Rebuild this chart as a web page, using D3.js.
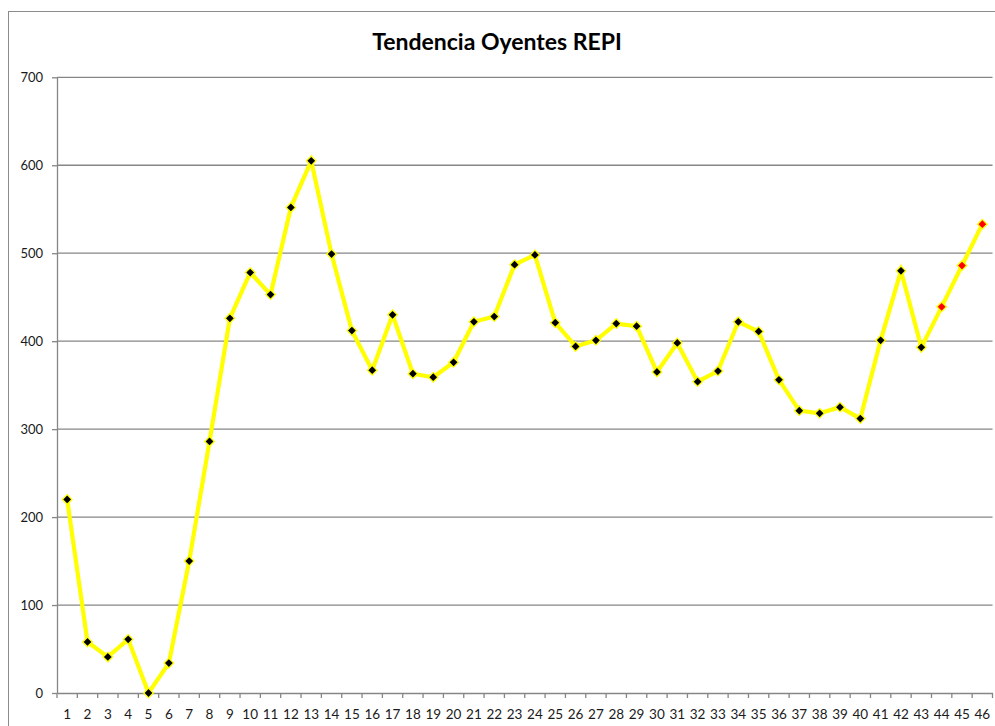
<!DOCTYPE html>
<html>
<head>
<meta charset="utf-8">
<script src="https://cdn.jsdelivr.net/npm/d3@7"></script>
<style>
  html, body { margin: 0; padding: 0; background: #fff; }
  svg { display: block; }
</style>
</head>
<body>
<svg id="chart" width="995" height="726"></svg>
<script>
const title = "Tendencia Oyentes REPI";
const categories = d3.range(1, 47).map(String);
const values = [220, 58, 41, 61, 0, 34, 150, 286, 426, 478, 453, 552, 605, 499, 412, 367,
  430, 363, 359, 376, 422, 428, 487, 498, 421, 394, 401, 420, 417, 365, 398, 354, 366,
  422, 411, 356, 321, 318, 325, 312, 401, 480, 393, 439, 486, 533];
const highlighted = ["44", "45", "46"];
const yTicks = [0, 100, 200, 300, 400, 500, 600, 700];

const svg = d3.select("#chart");
const margin = { left: 57, right: 992.5, top: 77.3, bottom: 693 };

// outer frame
svg.append("rect")
  .attr("x", 8.5).attr("y", 11.5)
  .attr("width", 1000).attr("height", 800)
  .attr("fill", "none").attr("stroke", "#8c8c8c").attr("stroke-width", 1);

const x = d3.scaleBand().domain(categories).range([margin.left, margin.right]).padding(0);
const y = d3.scaleLinear().domain([0, 700]).range([margin.bottom, margin.top]);

const data = categories.map((c, i) => ({ c, v: values[i] }));

// gridlines
svg.append("g").selectAll("line").data(yTicks.filter(t => t > 0)).join("line")
  .attr("x1", margin.left).attr("x2", margin.right)
  .attr("y1", d => y(d)).attr("y2", d => y(d))
  .attr("stroke", "#868686").attr("stroke-width", 1.3);

// y axis
const yAxis = svg.append("g")
  .attr("transform", `translate(${margin.left},0)`)
  .call(d3.axisLeft(y).tickValues(yTicks).tickSize(5).tickPadding(9).tickSizeOuter(0));
yAxis.select(".domain").attr("stroke", "#868686").attr("stroke-width", 1.3);
yAxis.selectAll(".tick line").attr("stroke", "#868686").attr("stroke-width", 1.3);
yAxis.selectAll("text").attr("font-family", "Lato, sans-serif").attr("font-size", 13).attr("fill", "#1a1a1a");

// x axis
const xAxis = svg.append("g")
  .attr("transform", `translate(0,${margin.bottom})`)
  .call(d3.axisBottom(x).tickSize(0).tickPadding(16).tickSizeOuter(0));
xAxis.select(".domain").attr("stroke", "#868686").attr("stroke-width", 1.3);
xAxis.selectAll("text").attr("font-family", "Lato, sans-serif").attr("font-size", 13.5).attr("fill", "#1a1a1a");
// tick marks between categories
const boundaries = categories.map(c => x(c)).concat([x(categories[categories.length - 1]) + x.bandwidth()]);
xAxis.append("g").selectAll("line").data(boundaries).join("line")
  .attr("x1", d => d).attr("x2", d => d)
  .attr("y1", 0).attr("y2", 5)
  .attr("stroke", "#868686").attr("stroke-width", 1.3);

// line
const line = d3.line().x(d => x(d.c) + x.bandwidth() / 2).y(d => y(d.v));
svg.append("path").datum(data)
  .attr("d", line)
  .attr("fill", "none").attr("stroke", "#ffff00").attr("stroke-width", 4.2)
  .attr("stroke-linejoin", "miter");

// markers
const sym = d3.symbol().type(d3.symbolSquare).size(46);
svg.append("g").selectAll("path").data(data).join("path")
  .attr("d", sym)
  .attr("transform", d => `translate(${x(d.c) + x.bandwidth() / 2},${y(d.v)}) rotate(45)`)
  .attr("fill", d => highlighted.includes(d.c) ? "#ff0000" : "#000000")
  .attr("stroke", "#ffff00").attr("stroke-width", 1.3);

// title
svg.append("text")
  .attr("x", 497).attr("y", 50)
  .attr("text-anchor", "middle")
  .attr("font-family", "Lato, sans-serif")
  .attr("font-weight", "bold")
  .attr("font-size", 23)
  .attr("fill", "#000")
  .text(title);
</script>
</body>
</html>
